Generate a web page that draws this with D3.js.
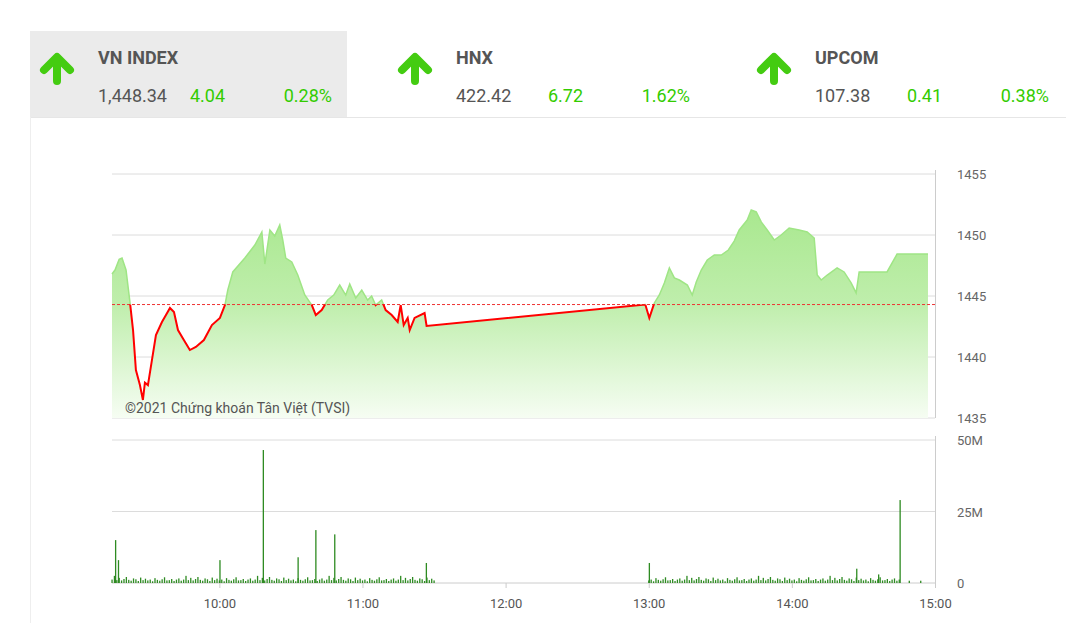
<!DOCTYPE html><html><head><meta charset="utf-8">
<script src="https://cdn.jsdelivr.net/npm/d3@7"></script>
<style>body{margin:0;background:#fff;font-family:Roboto,sans-serif}</style></head><body>
<svg id="c" width="1066" height="623"></svg>
<script>
const indices=[
 {name:"VN INDEX",value:"1,448.34",change:"4.04",pct:"0.28%"},
 {name:"HNX",value:"422.42",change:"6.72",pct:"1.62%"},
 {name:"UPCOM",value:"107.38",change:"0.41",pct:"0.38%"}];
const refValue=1444.30;
const priceTimes=[9.25,9.271,9.30,9.320,9.348,9.376,9.397,9.417,9.445,9.466,9.48,9.501,9.529,9.557,9.599,9.627,9.655,9.683,9.711,9.752,9.794,9.836,9.892,9.948,10.004,10.039,10.059,10.094,10.178,10.248,10.297,10.318,10.353,10.387,10.422,10.443,10.464,10.506,10.548,10.597,10.646,10.674,10.715,10.757,10.799,10.841,10.883,10.911,10.953,10.995,11.036,11.064,11.092,11.134,11.162,11.204,11.246,11.267,11.288,11.316,11.330,11.364,11.434,11.448,12.976,13.004,13.039,13.074,13.109,13.144,13.179,13.214,13.270,13.304,13.332,13.367,13.409,13.458,13.507,13.556,13.597,13.632,13.688,13.716,13.751,13.786,13.828,13.877,13.925,13.981,14.051,14.107,14.156,14.177,14.205,14.247,14.316,14.365,14.414,14.449,14.470,14.665,14.735,14.951];
const priceValues=[1446.8,1447.13,1448.0,1448.11,1447.13,1444.43,1442.21,1438.93,1437.70,1436.48,1437.9,1437.70,1439.75,1441.80,1442.87,1443.44,1444.02,1443.69,1442.21,1441.39,1440.57,1440.82,1441.39,1442.62,1443.20,1444.26,1445.49,1446.97,1448.11,1449.18,1450.25,1447.62,1450.41,1449.92,1450.82,1449.59,1448.11,1447.79,1446.72,1445.08,1444.26,1443.44,1443.85,1444.67,1445.08,1445.90,1445.08,1445.98,1444.84,1445.49,1444.67,1445.00,1444.26,1444.67,1443.85,1443.44,1442.87,1444.26,1442.62,1443.20,1442.21,1443.20,1443.60,1442.54,1444.30,1443.2,1444.43,1445.08,1446.07,1447.30,1446.48,1446.31,1445.90,1445.08,1446.15,1447.13,1447.95,1448.36,1448.36,1448.77,1449.50,1450.41,1451.23,1452.05,1451.89,1451.07,1450.41,1449.59,1450.00,1450.57,1450.41,1450.25,1449.75,1446.72,1446.31,1446.72,1447.30,1446.97,1446.07,1445.25,1446.97,1446.97,1448.44,1448.44];
const volSpikeTimes=[9.275,9.295,10.004,10.307,10.55,10.674,10.806,11.446,13.004,14.453,14.606,14.756,14.82,14.9];
const volSpikeValues=[15,8,8,46.5,9,18.5,17,7,7,5,3,29,0.8,0.8];
const volSmall=[1.2,2.5,1.0,1.8,0.9,1.4,2.1,1.1,0.8,1.6,1.3,0.7,1.9,1.0,1.5,0.9,1.2,0.6,1.7,1.1,0.8,1.3,2.0,0.9,1.0,1.4,0.7,1.2,1.6,0.8];
const yTicks=[1435,1440,1445,1450,1455];
const volTicks=[0,25,50];
const xTicks=[10,11,12,13,14,15];

const svg=d3.select("#c");
const green="#33cc00";
svg.append("rect").attr("x",30).attr("y",31).attr("width",317).attr("height",86).attr("fill","#ebebeb");
svg.append("line").attr("x1",30).attr("x2",1066).attr("y1",117.5).attr("y2",117.5).attr("stroke","#e6e6e6");
svg.append("line").attr("x1",30.5).attr("x2",30.5).attr("y1",117).attr("y2",623).attr("stroke","#eee");
const hx=[40,398,757];
indices.forEach((d,i)=>{
  const g=svg.append("g").attr("transform",`translate(${hx[i]},0)`);
  g.append("path").attr("d","M17,81 L17,62 M4,70 L17,57 L30,70").attr("fill","none").attr("stroke","#44cc11").attr("stroke-width",8).attr("stroke-linecap","round").attr("stroke-linejoin","round");
  g.append("text").attr("x",58).attr("y",64).text(d.name).attr("font-size",18).attr("font-weight","bold").attr("fill","#555");
  g.append("text").attr("x",58).attr("y",102).text(d.value).attr("font-size",18).attr("fill","#555");
  g.append("text").attr("x",150).attr("y",102).text(d.change).attr("font-size",18).attr("fill",green);
  g.append("text").attr("x",292).attr("y",102).attr("text-anchor","end").text(d.pct).attr("font-size",18).attr("fill",green);
});
const x=d3.scaleLinear().domain([9.25,15]).range([112,935]);
const y=d3.scaleLinear().domain([1435,1455]).range([418,174]);
const yv=d3.scaleLinear().domain([0,50]).range([583,440]);
const grid="#dcdcdc";
yTicks.forEach(t=>{svg.append("line").attr("x1",112).attr("x2",935).attr("y1",y(t)).attr("y2",y(t)).attr("stroke",grid);
 svg.append("text").attr("x",957).attr("y",y(t)+5).text(t).attr("font-size",13).attr("fill","#666");});
volTicks.forEach(t=>{svg.append("line").attr("x1",112).attr("x2",935).attr("y1",yv(t)).attr("y2",yv(t)).attr("stroke",t==0?"#ccc":grid);
 svg.append("text").attr("x",957).attr("y",yv(t)+5).text(t==0?"0":t+"M").attr("font-size",13).attr("fill","#666");});
svg.append("line").attr("x1",935.5).attr("x2",935.5).attr("y1",170).attr("y2",418).attr("stroke","#ccc");
svg.append("line").attr("x1",935.5).attr("x2",935.5).attr("y1",436).attr("y2",583).attr("stroke","#ccc");
const xa=svg.append("g").attr("transform","translate(0,583)").call(d3.axisBottom(x).tickValues(xTicks).tickSize(5).tickFormat(d=>String(d).padStart(2,"0")+":00"));
xa.select(".domain").remove();xa.selectAll("line").attr("stroke","#ccc");
xa.selectAll("text").attr("font-size",13).attr("fill","#555").attr("font-family","Roboto").attr("dy","1.3em");
const pts=priceTimes.map((t,i)=>[t,priceValues[i]]);
const defs=svg.append("defs");
const gr=defs.append("linearGradient").attr("id","gf").attr("x1",0).attr("x2",0).attr("y1",0).attr("y2",1);
gr.append("stop").attr("offset","0").attr("stop-color","#a9e88f");
gr.append("stop").attr("offset","0.45").attr("stop-color","#bfeeac");
gr.append("stop").attr("offset","1").attr("stop-color","#f6fdf3");
const area=d3.area().x(d=>x(d[0])).y0(418).y1(d=>y(d[1]));
svg.append("path").datum(pts).attr("d",area).attr("fill","url(#gf)");
defs.append("clipPath").attr("id","above").append("rect").attr("x",0).attr("y",0).attr("width",1066).attr("height",y(refValue));
defs.append("clipPath").attr("id","below").append("rect").attr("x",0).attr("y",y(refValue)).attr("width",1066).attr("height",200);
const line=d3.line().x(d=>x(d[0])).y(d=>y(d[1]));
svg.append("path").datum(pts).attr("d",line).attr("fill","none").attr("stroke","#9fe585").attr("stroke-width",1.5).attr("clip-path","url(#above)");
svg.append("line").attr("x1",112).attr("x2",935).attr("y1",y(refValue)).attr("y2",y(refValue)).attr("stroke","#e33").attr("stroke-dasharray","3,2");
svg.append("path").datum(pts).attr("d",line).attr("fill","none").attr("stroke","#ff0000").attr("stroke-width",2).attr("clip-path","url(#below)");
svg.append("text").attr("x",125).attr("y",413).text("©2021 Chứng khoán Tân Việt (TVSI)").attr("font-size",14).attr("fill","#555");
const vol=[];
const n=volSmall.length;
for(let k=0;k<345;k++){const t=9.25+k/60; if(t>11.5&&t<13)continue; if(t>14.75) continue; vol.push([t,volSmall[k%n]]);}
volSpikeTimes.forEach((t,i)=>vol.push([t,volSpikeValues[i]]));
svg.append("g").selectAll("rect").data(vol).join("rect").attr("x",d=>x(d[0])-0.6).attr("width",1.3).attr("y",d=>yv(d[1])).attr("height",d=>583-yv(d[1])).attr("fill","#2e8b22");
</script></body></html>
